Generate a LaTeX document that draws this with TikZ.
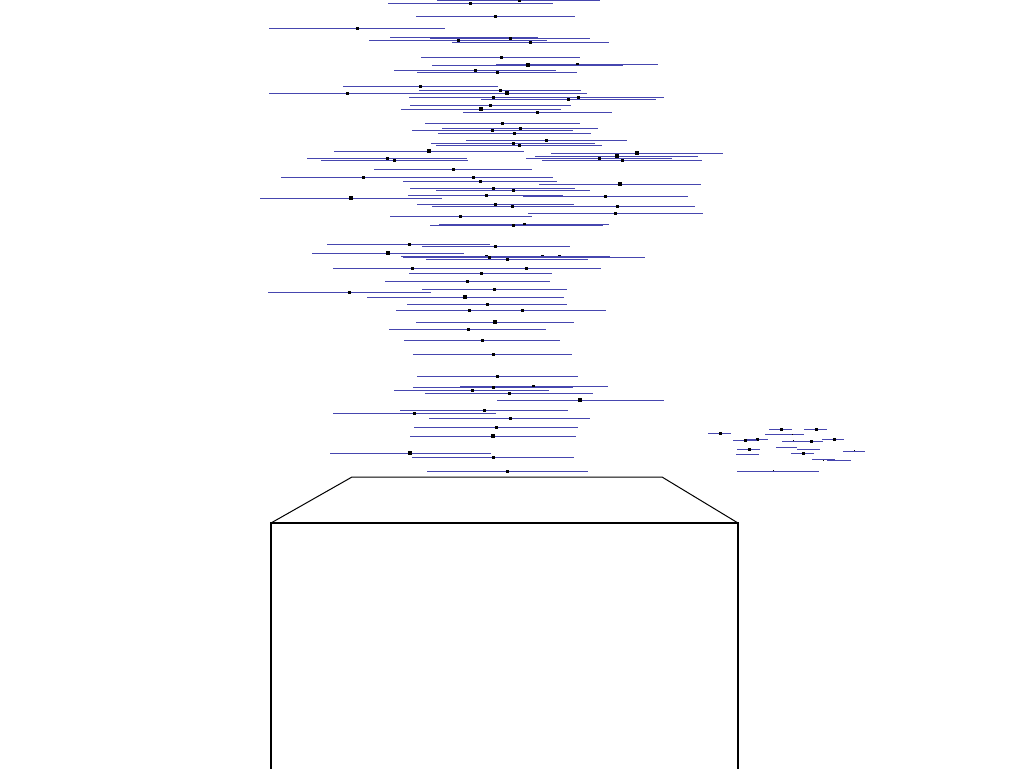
\documentclass[tikz,border=0pt]{standalone}
\definecolor{cibl}{RGB}{70,70,175}
\tikzset{ciline/.style={draw=cibl,line width=0.75pt},
  boxline/.style={draw=black,line width=0.75pt},
  boxthick/.style={draw=black,line width=1.5pt}}
\newcommand\fpl[4]{\draw[ciline] (#2,#1) -- (#3,#1); \fill[black] (#4-1.5,#1-1.5) rectangle (#4+1.5,#1+1.5);}
\newcommand\fpb[4]{\draw[ciline] (#2,#1) -- (#3,#1); \fill[black] (#4-2,#1-2) rectangle (#4+2,#1+2);}
\newcommand\fpn[3]{\draw[ciline] (#2,#1) -- (#3,#1);}
\newcommand\fsq[2]{\fill[black] (#1-1.5,#2-1.5) rectangle (#1+1.5,#2+1.5);}
\begin{document}
\begin{tikzpicture}[x=0.75pt,y=-0.75pt]
\useasboundingbox (0,0) rectangle (1024,768);
\clip (0,0) rectangle (1024,768);
% top group
\fpl{0.8}{437}{600}{519}
\fpl{3.3}{388}{553}{470}
\fpl{16}{416}{575}{495}
\fpl{28}{269}{445}{357}
\fpn{37.3}{390}{538}
\fpl{38.3}{430}{590}{510}
\fpl{40.3}{369}{547}{458}
\fpl{42.3}{452}{609}{530}
\fpl{57.3}{421}{580}{501}
\fpl{64.3}{496}{658}{577}
\fpb{65.3}{432}{623}{528}
\fpl{70.3}{394}{556}{475}
\fpl{72.3}{417}{577}{497}
\fpl{86.3}{343}{498}{420}
\fpl{90.3}{419}{581}{500}
\fpl{93.3}{269}{445}{347}
\fpb{93.3}{430}{587}{507}
\fpl{97.3}{409}{664}{493}
\fpl{99.3}{481}{656}{568}
\fsq{578}{97.3}
\fpl{105.3}{410}{571}{490}
\fpb{109.3}{401}{561}{481}
\fpl{112.3}{463}{612}{537}
\fpl{123.3}{425}{580}{502}
\fpl{128.3}{442}{598}{520}
\fpl{130.3}{412}{573}{492}
\fpl{133.3}{438}{591}{514}
\fpl{140.3}{466}{627}{546}
\fpl{143.3}{431}{595}{513}
\fpl{145.3}{436}{602}{519}
\fpb{151.3}{334}{524}{429}
\fpb{153.3}{551}{723}{637}
\fpb{156.3}{535}{698}{617}
\fpl{158.3}{307}{467}{387}
\fpl{158.3}{526}{672}{599}
\fpl{160.3}{321}{468}{394}
\fpl{160.3}{542}{702}{622}
\fpl{169.3}{374}{532}{453}
\fpl{177.3}{281}{553}{363}
\fsq{473}{177.3}
\fpl{181.3}{403}{557}{480}
\fpb{184.3}{539}{701}{620}
\fpl{188.3}{410}{575}{493}
\fpl{190.3}{436}{590}{513}
\fpl{195.3}{408}{563}{486}
\fpl{196.3}{523}{688}{605}
\fpb{198.3}{260}{442}{351}
\fpl{204.3}{417}{574}{495}
\fpl{206.3}{432}{695}{512}
\fsq{617}{206.3}
\fpl{213.3}{528}{703}{615}
\fpl{216.3}{390}{532}{460}
\fpl{224.3}{439}{609}{524}
\fpl{225.3}{430}{603}{513}
% middle group
\fpl{244.3}{327}{490}{409}
\fpl{246.3}{422}{570}{495}
\fpb{253.3}{312}{464}{388}
\fpl{256.3}{401}{610}{486}
\fsq{542}{256.3}
\fsq{559}{256.3}
\draw[cibl,line width=1.5pt] (473,257) -- (574,257);
\fpl{257.8}{403}{645}{489}
\fpl{259.3}{426}{588}{507}
\fpl{268.3}{333}{601}{412}
\fsq{526}{268.3}
\fpl{273.3}{409}{552}{481}
\fpl{281.3}{385}{550}{467}
\fpl{289.3}{422}{567}{494}
\fpl{292.3}{268}{431}{349}
\fpb{297.3}{367}{564}{465}
\fpl{304.3}{407}{567}{487}
\fpl{310.3}{396}{606}{469}
\fsq{522}{310.3}
\fpb{322.3}{416}{574}{495}
\fpl{329.3}{389}{546}{468}
\fpl{340.3}{404}{560}{482}
\fpl{354.3}{413}{572}{493}
% lower group
\fpl{376.3}{417}{578}{497}
\fpl{386.3}{460}{608}{533}
\fpl{387.3}{413}{573}{493}
\fpl{390.3}{394}{549}{472}
\fpl{393.3}{425}{593}{509}
\fpb{400.3}{497}{664}{580}
\fpl{410.3}{400}{568}{484}
\fpl{413.3}{333}{496}{414}
\fpl{418.3}{429}{590}{510}
\fpl{427.3}{414}{578}{496}
\fpb{436.3}{410}{576}{493}
\fpb{453.3}{330}{491}{410}
\fpl{457.3}{412}{574}{493}
\fpl{471.3}{427}{588}{507}
% right cluster
\fpl{429.3}{769}{792}{781}
\fpl{429.3}{804}{827}{816}
\fpl{433.3}{708}{731}{720}
\fpn{434.3}{765}{804}
\fill (791.5,433.8) rectangle (792.5,434.8);
\fpl{439.3}{746}{768}{757}
\fpl{440.3}{733}{757}{745}
\fpn{441.3}{782}{823}
\fill (792.5,440.3) rectangle (793.5,441.3);
\fsq{811}{441.3}
\fpl{439.3}{822}{844}{834}
\fpn{447.3}{776}{797}
\fpl{449.3}{737}{760}{749}
\fpn{449.3}{797}{820}
\fill (853.5,450.3) rectangle (854.5,451.3);
\fpn{451.3}{843}{865}
\fpn{454.3}{736}{759}
\fpl{453.3}{791}{814}{803}
\fpn{459.3}{812}{835}
\fill (822.5,459.8) rectangle (823.5,460.8);
\fpn{460.3}{827}{851}
\fpn{471.3}{737}{819}
\fill (772.5,470.3) rectangle (773.5,471.3);
% trapezoid and box
\draw[boxline] (271,523) -- (352,477) -- (662,477) -- (738,523);
\draw[boxthick] (271,780) -- (271,523) -- (738,523) -- (738,780);
\end{tikzpicture}
\end{document}
